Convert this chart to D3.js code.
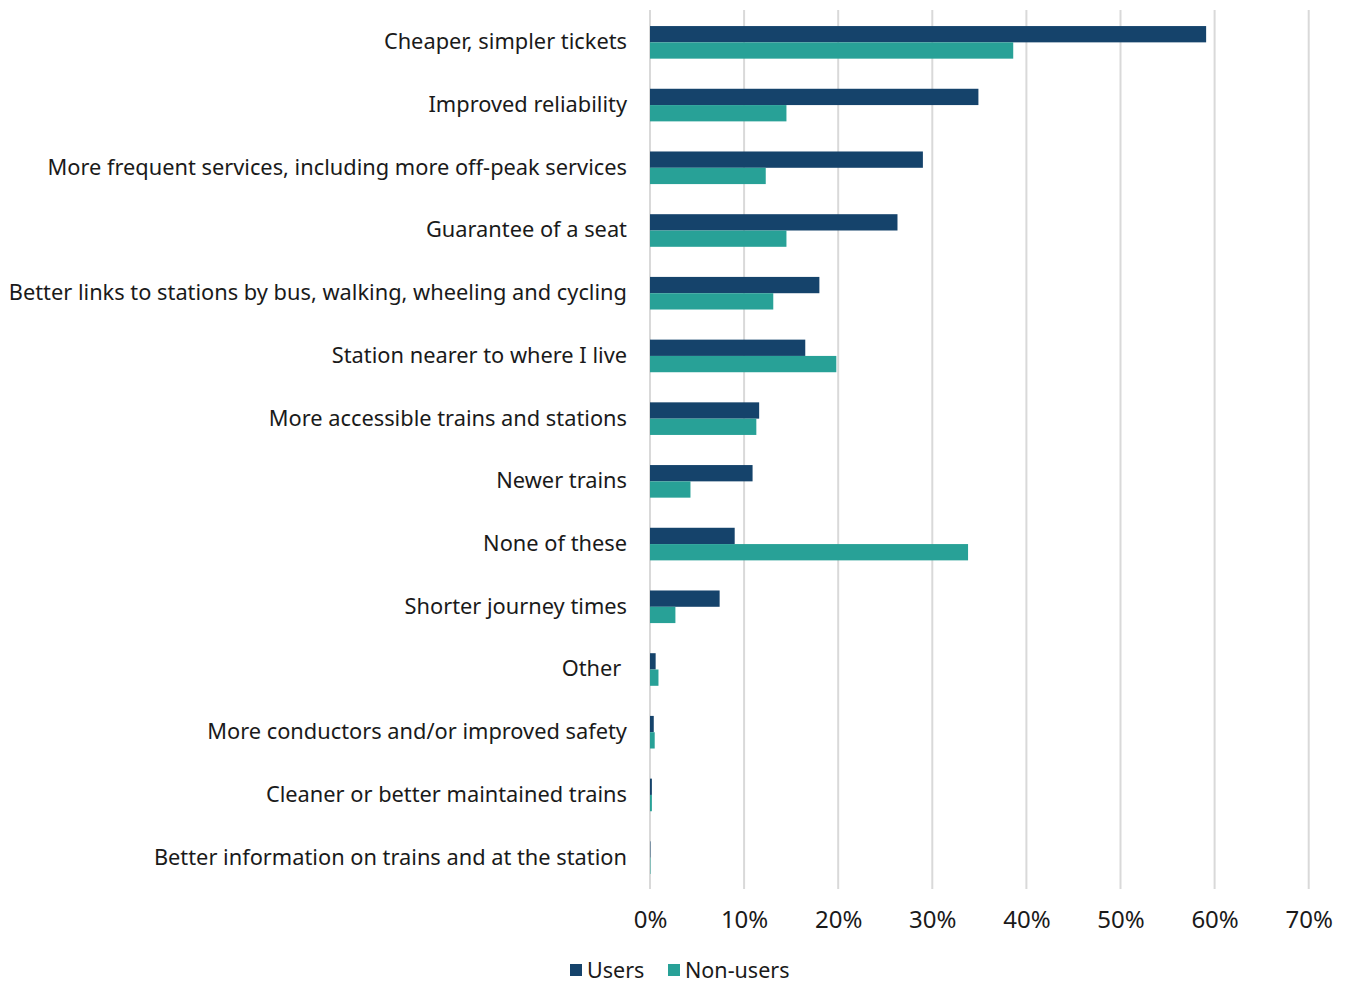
<!DOCTYPE html>
<html>
<head>
<meta charset="utf-8">
<script src="https://cdn.jsdelivr.net/npm/d3@7"></script>
<style>
  html, body { margin: 0; padding: 0; background: #ffffff; }
  svg { display: block; font-family: "Noto Sans", "Lato", sans-serif; }
</style>
</head>
<body>
<svg id="chart" width="1351" height="983"></svg>
<script>
// Reasons that would encourage more rail use, users vs non-users (share of respondents)
const categories = [
  "Cheaper, simpler tickets",
  "Improved reliability",
  "More frequent services, including more off-peak services",
  "Guarantee of a seat",
  "Better links to stations by bus, walking, wheeling and cycling",
  "Station nearer to where I live",
  "More accessible trains and stations",
  "Newer trains",
  "None of these",
  "Shorter journey times",
  "Other ",
  "More conductors and/or improved safety",
  "Cleaner or better maintained trains",
  "Better information on trains and at the station"
];
const usersValues    = [0.591, 0.349, 0.290, 0.263, 0.180, 0.165, 0.116, 0.109, 0.090, 0.074, 0.006, 0.004, 0.002, 0.0005];
const nonUsersValues = [0.386, 0.145, 0.123, 0.145, 0.131, 0.198, 0.113, 0.043, 0.338, 0.027, 0.009, 0.005, 0.002, 0.0005];
const seriesNames = ["Users", "Non-users"];
const seriesColors = ["#15436b", "#28a197"];
const xTicks = [0, 0.1, 0.2, 0.3, 0.4, 0.5, 0.6, 0.7];

const rows = categories.map((c, i) => ({ cat: c, values: [usersValues[i], nonUsersValues[i]] }));

const svg = d3.select("#chart");
const plot = { left: 650, right: 1308.7, top: 11, bottom: 889 };
const font = "'Noto Sans', Lato, sans-serif";

const x = d3.scaleLinear().domain([0, 0.7]).range([plot.left, plot.right]);
const y = d3.scaleBand().domain(categories).range([plot.top, plot.bottom]).padding(0);
const barH = 16.3;
const sub = d3.scaleBand().domain(seriesNames)
  .range([y.bandwidth() / 2 - barH, y.bandwidth() / 2 + barH]).padding(0);

// Vertical gridlines
svg.append("g").attr("class", "grid")
  .selectAll("line").data(xTicks).join("line")
  .attr("x1", d => x(d)).attr("x2", d => x(d))
  .attr("y1", 10).attr("y2", 889)
  .attr("stroke", "#d9d9d9").attr("stroke-width", 2);

// Bars
const groups = svg.append("g").selectAll("g").data(rows).join("g")
  .attr("transform", d => `translate(0,${y(d.cat)})`);
groups.selectAll("rect")
  .data(d => d.values.map((v, k) => ({ v, s: seriesNames[k], k })))
  .join("rect")
  .attr("x", x(0))
  .attr("y", d => sub(d.s))
  .attr("width", d => Math.max(0, x(d.v) - x(0)))
  .attr("height", sub.bandwidth())
  .attr("fill", d => seriesColors[d.k]);

// Category labels (whitespace kept so trailing spaces count)
const yAxis = d3.axisLeft(y).tickSize(0).tickPadding(0);
const gy = svg.append("g").attr("transform", `translate(627,0)`).call(yAxis);
gy.select(".domain").remove();
gy.selectAll("text")
  .style("white-space", "pre")
  .attr("font-size", 21.8).attr("fill", "#1a1a1a")
  .attr("font-family", font);

// Percentage axis labels
const xAxis = d3.axisBottom(x).tickValues(xTicks).tickFormat(d3.format(".0%")).tickSize(0).tickPadding(0);
const gx = svg.append("g").attr("transform", `translate(0,920)`).call(xAxis);
gx.select(".domain").remove();
gx.selectAll("text")
  .attr("font-size", 24).attr("fill", "#1a1a1a")
  .attr("dy", "0.35em")
  .attr("font-family", font);

// Legend
const legendItems = [
  { name: seriesNames[0], color: seriesColors[0], x: 570 },
  { name: seriesNames[1], color: seriesColors[1], x: 668 }
];
const lg = svg.append("g").selectAll("g").data(legendItems).join("g")
  .attr("transform", d => `translate(${d.x},964)`);
lg.append("rect").attr("width", 12).attr("height", 12).attr("fill", d => d.color);
lg.append("text").attr("x", 17).attr("y", 6).attr("dy", "0.35em")
  .attr("font-size", 21.5).attr("fill", "#1a1a1a")
  .attr("font-family", font)
  .text(d => d.name);
</script>
</body>
</html>
